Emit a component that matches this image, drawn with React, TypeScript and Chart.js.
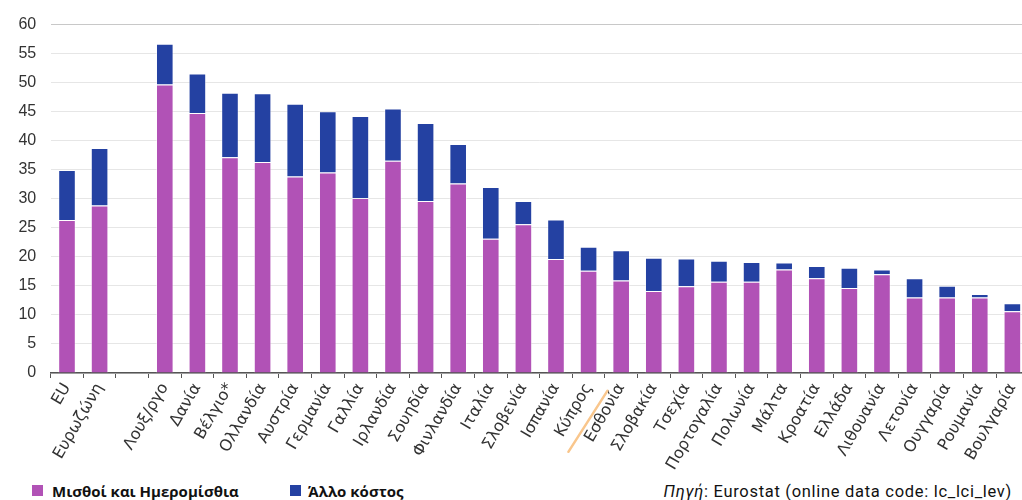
import React, { useEffect, useRef } from "react";
import { Chart, registerables } from "chart.js";

Chart.register(...registerables);

const categories = [
  "EU", "Ευρωζώνη", "", "Λουξ/ργο", "Δανία", "Βέλγιο*", "Ολλανδία", "Αυστρία",
  "Γερμανία", "Γαλλία", "Ιρλανδία", "Σουηδία", "Φινλανδία", "Ιταλία", "Σλοβενία",
  "Ισπανία", "Κύπρος", "Εσθονία", "Σλοβακία", "Τσεχία", "Πορτογαλία", "Πολωνία",
  "Μάλτα", "Κροατία", "Ελλάδα", "Λιθουανία", "Λετονία", "Ουγγαρία", "Ρουμανία", "Βουλγαρία",
];

const wages = [
  26.3, 28.8, null, 49.6, 44.7, 37.1, 36.3, 33.8, 34.5, 30.1, 36.5, 29.6, 32.6, 23.1, 25.6,
  19.6, 17.6, 15.9, 14.1, 14.9, 15.7, 15.7, 17.8, 16.3, 14.6, 17.0, 13.0, 13.0, 13.0, 10.6,
];

const otherCost = [
  8.6, 9.9, null, 7.0, 6.8, 11.1, 11.8, 12.5, 10.5, 14.1, 9.0, 13.4, 6.8, 8.9, 4.0,
  6.8, 4.1, 5.2, 5.7, 4.8, 3.6, 3.4, 1.2, 2.1, 3.5, 0.8, 3.3, 2.0, 0.6, 1.4,
];

const seriesNames = ["Μισθοί και Ημερομίσθια", "Άλλο κόστος"];
const seriesColors = ["#b152b6", "#2441a2"];
const yTicks = [0, 5, 10, 15, 20, 25, 30, 35, 40, 45, 50, 55, 60];
const highlightedAfter = "Κύπρος";
const sourceLabel = "Πηγή";
const sourceText = ": Eurostat (online data code: lc_lci_lev)";

const highlightPlugin = {
  id: "highlightLine",
  afterDraw(chart: any) {
    const xs = chart.scales.x;
    const i = categories.indexOf(highlightedAfter);
    const xb = (xs.getPixelForTick(i) + xs.getPixelForTick(i + 1)) / 2;
    const yb = chart.chartArea.bottom;
    const ctx = chart.ctx;
    ctx.save();
    ctx.strokeStyle = "#f9c68c";
    ctx.lineWidth = 2.5;
    ctx.lineCap = "round";
    ctx.beginPath();
    ctx.moveTo(xb - 36.5, yb + 78.8);
    ctx.lineTo(xb + 2.5, yb + 17.8);
    ctx.stroke();
    ctx.restore();
  },
};

export default function App() {
  const canvasRef = useRef<HTMLCanvasElement | null>(null);

  useEffect(() => {
    if (!canvasRef.current) return;
    const chart = new Chart(canvasRef.current, {
      type: "bar",
      data: {
        labels: categories,
        datasets: [
          {
            label: seriesNames[0],
            data: wages,
            backgroundColor: seriesColors[0],
            borderColor: "rgba(255,255,255,0.45)",
            borderWidth: 1,
            categoryPercentage: 1,
            barPercentage: 0.54,
          },
          {
            label: seriesNames[1],
            data: otherCost,
            backgroundColor: seriesColors[1],
            borderColor: "rgba(255,255,255,0.45)",
            borderWidth: 1,
            categoryPercentage: 1,
            barPercentage: 0.54,
          },
        ],
      },
      options: {
        animation: false,
        responsive: true,
        maintainAspectRatio: false,
        layout: { padding: { top: 18.5, left: 0, right: 0, bottom: 0 } },
        plugins: {
          legend: { display: false },
          tooltip: { enabled: false },
        },
        scales: {
          x: {
            stacked: true,
            afterFit: (s: any) => {
              s.height = 97;
            },
            grid: {
              drawOnChartArea: false,
              drawTicks: true,
              tickLength: 5,
              color: "#555",
              offset: true,
            },
            border: { display: true, color: "#555", width: 1.5 },
            ticks: {
              autoSkip: false,
              minRotation: 60,
              maxRotation: 60,
              padding: 2,
              color: "#333",
              font: { family: "DejaVu Sans", size: 16 },
            },
          },
          y: {
            stacked: true,
            min: 0,
            max: 60,
            afterFit: (s: any) => {
              s.width = 50.7;
            },
            afterBuildTicks: (s: any) => {
              s.ticks = yTicks.map((v) => ({ value: v }));
            },
            border: { display: false },
            grid: {
              drawTicks: false,
              color: (c: any) => (c.tick && c.tick.value === 60 ? "#c8c8c8" : "#e6e6e6"),
              lineWidth: 1,
            },
            ticks: {
              padding: 14.5,
              color: "#333",
              font: { family: "Liberation Sans", size: 16 },
            },
          },
        },
      },
      plugins: [highlightPlugin],
    });
    return () => chart.destroy();
  }, []);

  const legendText: React.CSSProperties = {
    position: "absolute",
    top: 482,
    fontFamily: "'Open Sans'",
    fontWeight: 700,
    fontSize: 15,
    color: "#111",
    lineHeight: "19px",
    whiteSpace: "nowrap",
  };
  const square = (left: number, color: string): React.CSSProperties => ({
    position: "absolute",
    left,
    top: 485,
    width: 11,
    height: 11,
    background: color,
  });

  return (
    <div
      style={{
        position: "fixed",
        left: 0,
        top: 0,
        width: "100vw",
        height: "100vh",
        overflow: "hidden",
        background: "#fff",
      }}
    >
      <div style={{ position: "absolute", left: 0, top: 0, width: 1031, height: 470 }}>
        <canvas ref={canvasRef} />
      </div>
      <div style={square(32, seriesColors[0])} />
      <div style={{ ...legendText, left: 52 }}>{seriesNames[0]}</div>
      <div style={square(290, seriesColors[1])} />
      <div style={{ ...legendText, left: 308 }}>{seriesNames[1]}</div>
      <div
        style={{
          position: "absolute",
          right: 10,
          top: 482,
          fontFamily: "Roboto",
          fontSize: 16.5,
          letterSpacing: 0.7,
          color: "#111",
          lineHeight: "19px",
          whiteSpace: "nowrap",
        }}
      >
        <i>{sourceLabel}</i>
        {sourceText}
      </div>
    </div>
  );
}
